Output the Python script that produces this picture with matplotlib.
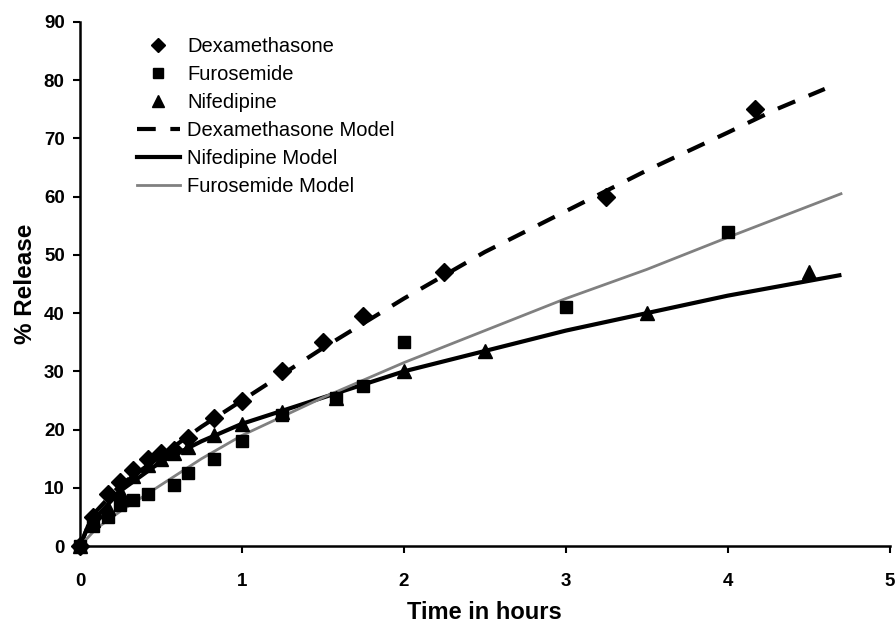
import matplotlib
matplotlib.use("Agg")
import matplotlib.pyplot as plt

plt.rcParams['font.family'] = ['Liberation Sans', 'DejaVu Sans']

# measured release (%) vs time (h)
dex_t = [0, 0.08, 0.17, 0.25, 0.33, 0.42, 0.5, 0.58, 0.67, 0.83, 1.0, 1.25, 1.5, 1.75, 2.25, 3.25, 4.17]
dex_r = [0, 5, 9, 11, 13, 15, 16, 16.5, 18.5, 22, 25, 30, 35, 39.5, 47, 60, 75]

fur_t = [0, 0.08, 0.17, 0.25, 0.33, 0.42, 0.58, 0.67, 0.83, 1.0, 1.25, 1.58, 1.75, 2.0, 3.0, 4.0]
fur_r = [0, 3.5, 5, 7, 8, 9, 10.5, 12.5, 15, 18, 22.5, 25.5, 27.5, 35, 41, 54]

nif_t = [0, 0.08, 0.17, 0.25, 0.33, 0.42, 0.5, 0.58, 0.67, 0.83, 1.0, 1.25, 1.58, 2.0, 2.5, 3.5, 4.5]
nif_r = [0, 4.5, 6.5, 9.5, 12, 14, 15, 16, 17, 19, 21, 23, 25.5, 30, 33.5, 40, 47]

# fitted model curves
dex_mt = [0, 0.05, 0.1, 0.25, 0.5, 0.75, 1.0, 1.5, 2.0, 2.5, 3.0, 3.5, 4.0, 4.3, 4.6]
dex_mr = [0, 3.5, 6, 10.5, 15.5, 20.5, 25, 34, 42.5, 50.5, 57.5, 64.5, 71, 75, 78.5]

nif_mt = [0, 0.05, 0.1, 0.25, 0.5, 0.75, 1.0, 1.5, 2.0, 2.5, 3.0, 3.5, 4.0, 4.69]
nif_mr = [0, 3.5, 5, 9.5, 14.5, 18, 21, 25.5, 30, 33.5, 37, 40, 43, 46.5]

fur_mt = [0, 0.1, 0.25, 0.5, 0.75, 1.0, 1.5, 2.0, 2.5, 3.0, 3.5, 4.0, 4.7]
fur_mr = [0, 3, 6, 10.5, 15, 19, 25.5, 31.5, 37, 42.5, 47.5, 53, 60.5]

fig = plt.figure(figsize=(8.96, 6.27), dpi=100)
ax = fig.add_axes([0.0893, 0.129, 0.9035, 0.836])

ax.plot(dex_t, dex_r, 'D', color='black', ms=9, clip_on=False, zorder=4, label='Dexamethasone')
ax.plot(fur_t, fur_r, 's', color='black', ms=9, clip_on=False, zorder=4, label='Furosemide')
ax.plot(nif_t, nif_r, '^', color='black', ms=10, clip_on=False, zorder=4, label='Nifedipine')
ax.plot(dex_mt, dex_mr, color='black', lw=3, dashes=(4.5, 3.5), label='Dexamethasone Model')
ax.plot(nif_mt, nif_mr, color='black', lw=3, label='Nifedipine Model')
ax.plot(fur_mt, fur_mr, color='0.5', lw=2, label='Furosemide Model')

ax.set_xlim(0, 5)
ax.set_ylim(0, 90)
ax.set_xticks(range(0, 6))
ax.set_yticks(range(0, 91, 10))
for s in ['top', 'right']:
    ax.spines[s].set_visible(False)
for s in ['left', 'bottom']:
    ax.spines[s].set_linewidth(1.8)
ax.tick_params(direction='out', length=5, width=1.5, labelsize=13.5)
ax.tick_params(axis='x', pad=14)
ax.tick_params(axis='y', pad=6)
for lab in ax.get_xticklabels() + ax.get_yticklabels():
    lab.set_fontweight('bold')

ax.set_xlabel('Time in hours', fontsize=17, fontweight='bold', labelpad=8)
ax.set_ylabel('% Release', fontsize=17.5, fontweight='bold', labelpad=5)

ax.legend(loc='upper left', bbox_to_anchor=(0.07, 0.972), frameon=False,
          borderpad=0, borderaxespad=0, fontsize=14.5, markerscale=0.8,
          handlelength=2.15, handletextpad=0.35, labelspacing=0.45)

fig.savefig('out.png', dpi=100)
